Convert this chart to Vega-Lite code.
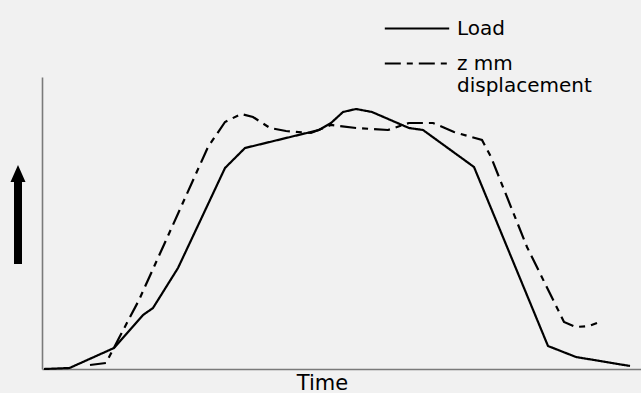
{
  "$schema": "https://vega.github.io/schema/vega-lite/v6.json",
  "width": 599,
  "height": 292,
  "autosize": {"type": "none"},
  "padding": {"left": 42, "top": 77, "right": 0, "bottom": 24},
  "background": "#f1f1f1",
  "config": {
    "view": {"stroke": null},
    "font": "DejaVu Sans",
    "axis": {"domainColor": "#7a7a7a", "domainWidth": 1.6, "ticks": false, "labels": false, "grid": false}
  },
  "datasets": {
    "curves": [
      {"t": 2, "v": 0, "series": "Load"},
      {"t": 27.5, "v": 1, "series": "Load"},
      {"t": 72, "v": 21, "series": "Load"},
      {"t": 79, "v": 29, "series": "Load"},
      {"t": 101, "v": 54, "series": "Load"},
      {"t": 111, "v": 61, "series": "Load"},
      {"t": 136, "v": 101, "series": "Load"},
      {"t": 160, "v": 152, "series": "Load"},
      {"t": 183, "v": 201, "series": "Load"},
      {"t": 203, "v": 221, "series": "Load"},
      {"t": 277, "v": 239, "series": "Load"},
      {"t": 289, "v": 246, "series": "Load"},
      {"t": 301, "v": 257, "series": "Load"},
      {"t": 314, "v": 260, "series": "Load"},
      {"t": 330, "v": 257, "series": "Load"},
      {"t": 367, "v": 241, "series": "Load"},
      {"t": 381, "v": 239, "series": "Load"},
      {"t": 432, "v": 202, "series": "Load"},
      {"t": 506, "v": 23, "series": "Load"},
      {"t": 534, "v": 12, "series": "Load"},
      {"t": 588, "v": 3, "series": "Load"},
      {"t": 48, "v": 4, "series": "z mm displacement"},
      {"t": 64, "v": 6, "series": "z mm displacement"},
      {"t": 77, "v": 31, "series": "z mm displacement"},
      {"t": 97, "v": 69, "series": "z mm displacement"},
      {"t": 130, "v": 142, "series": "z mm displacement"},
      {"t": 166, "v": 222, "series": "z mm displacement"},
      {"t": 183, "v": 247, "series": "z mm displacement"},
      {"t": 199, "v": 255, "series": "z mm displacement"},
      {"t": 211, "v": 252, "series": "z mm displacement"},
      {"t": 228, "v": 241, "series": "z mm displacement"},
      {"t": 244, "v": 238, "series": "z mm displacement"},
      {"t": 269, "v": 236, "series": "z mm displacement"},
      {"t": 289, "v": 244, "series": "z mm displacement"},
      {"t": 314, "v": 241, "series": "z mm displacement"},
      {"t": 346, "v": 239, "series": "z mm displacement"},
      {"t": 367, "v": 246, "series": "z mm displacement"},
      {"t": 391, "v": 246, "series": "z mm displacement"},
      {"t": 412, "v": 237, "series": "z mm displacement"},
      {"t": 440, "v": 229, "series": "z mm displacement"},
      {"t": 449, "v": 212, "series": "z mm displacement"},
      {"t": 485, "v": 122, "series": "z mm displacement"},
      {"t": 522, "v": 47, "series": "z mm displacement"},
      {"t": 534, "v": 42, "series": "z mm displacement"},
      {"t": 547, "v": 43, "series": "z mm displacement"},
      {"t": 555, "v": 46, "series": "z mm displacement"}
    ],
    "arrow": [{"t": -24, "v": 154}]
  },
  "layer": [
    {
      "data": {"name": "curves"},
      "mark": {"type": "line", "color": "black", "strokeWidth": 2.2},
      "encoding": {
        "x": {"field": "t", "type": "quantitative", "scale": {"domain": [0, 599], "nice": false, "zero": false},
              "axis": {"title": "Time", "titleFontSize": 21, "titleFontWeight": "normal", "titleColor": "black", "titleX": 280, "titleY": 20, "titleAlign": "center", "titleBaseline": "alphabetic"}},
        "y": {"field": "v", "type": "quantitative", "scale": {"domain": [0, 292], "nice": false}, "axis": {"title": null}},
        "strokeDash": {
          "field": "series", "type": "nominal",
          "scale": {"domain": ["Load", "z mm displacement"], "range": [[1, 0], [16, 6, 6, 6]]},
          "legend": {
            "title": null, "orient": "none", "legendX": 350.5, "legendY": -73,
            "symbolType": "M-1.4,0L1.4,0", "symbolSize": 2116, "symbolStrokeWidth": 2.2, "symbolStrokeColor": "black",
            "labelFont": "DejaVu Sans", "labelFontSize": 20, "labelColor": "black", "labelOffset": 15.5,
            "labelBaseline": "middle", "rowPadding": 0, "padding": 0,
            "labelExpr": "datum.label == 'z mm displacement' ? ['z mm', 'displacement'] : datum.label"
          }
        }
      }
    },
    {
      "data": {"name": "arrow"},
      "mark": {"type": "point", "filled": true, "color": "black", "opacity": 1, "size": 10000, "clip": false,
               "shape": "M0,-1L0.15,-0.66L0.08,-0.66L0.08,0.98L-0.08,0.98L-0.08,-0.66L-0.15,-0.66Z"},
      "encoding": {
        "x": {"field": "t", "type": "quantitative"},
        "y": {"field": "v", "type": "quantitative"}
      }
    }
  ]
}
